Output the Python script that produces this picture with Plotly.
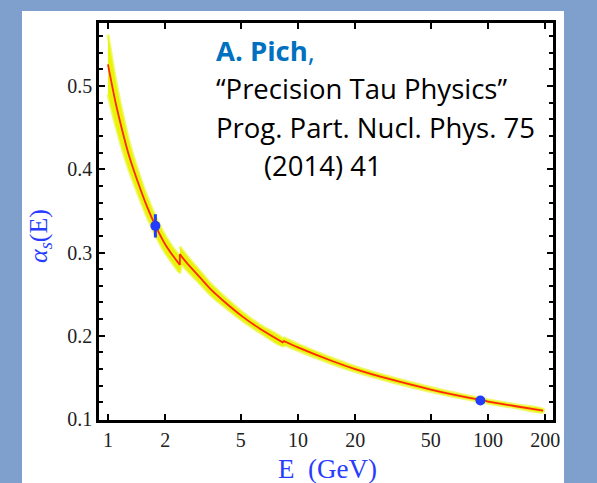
import plotly.graph_objects as go

# ---- data ----
seg1_E = [1.0, 1.1, 1.21, 1.3, 1.42, 1.6, 1.78, 2.0, 2.2, 2.39]
seg1_a = [0.526, 0.479, 0.440, 0.414, 0.388, 0.356, 0.332, 0.310, 0.296, 0.285]
seg1_h = [0.036, 0.027, 0.021, 0.017, 0.014, 0.012, 0.011, 0.010, 0.0095, 0.009]

seg2_E = [2.39, 2.6, 3.05, 3.5, 4.0, 5.13, 6.31, 8.37]
seg2_a = [0.298, 0.2875, 0.270, 0.255, 0.243, 0.2227, 0.2085, 0.1917]
seg2_h = [0.009, 0.0085, 0.0075, 0.0068, 0.006, 0.005, 0.0045, 0.004]

seg3_E = [8.37, 10, 15, 20, 30.5, 50, 63, 91, 100, 140, 195]
seg3_a = [0.194, 0.186, 0.170, 0.160, 0.1478, 0.1354, 0.1302, 0.1229, 0.121, 0.1153, 0.110]
seg3_h = [0.004, 0.0038, 0.0033, 0.003, 0.0027, 0.0024, 0.0022, 0.002, 0.002, 0.0019, 0.0018]

meas_E = [1.777, 91.19]
meas_a = [0.332, 0.1222]
meas_err = [0.014, 0.0]

x_ticks = [1, 2, 5, 10, 20, 50, 100, 200]
y_ticks = [0.1, 0.2, 0.3, 0.4, 0.5]

# ---- layout geometry (pixels) ----
W, H = 597, 483
L, R, T, B = 99, 553, 23, 420
def px(x): return (x - L) / (R - L)
def py(y): return (B - y) / (B - T)

BAND = 'rgb(232,244,10)'
RED = 'rgb(255,40,10)'
BLUE = 'rgb(35,60,255)'

fig = go.Figure()
segs = [(seg1_E, seg1_a, seg1_h), (seg2_E, seg2_a, seg2_h), (seg3_E, seg3_a, seg3_h)]
for E, a, h in segs:
    up = [v + d for v, d in zip(a, h)]
    lo = [v - d for v, d in zip(a, h)]
    fig.add_trace(go.Scatter(x=E + E[::-1], y=up + lo[::-1], fill='toself',
                             fillcolor=BAND, line=dict(color='rgba(232,244,10,0.6)', width=3, shape='spline', smoothing=0.8),
                             mode='lines', hoverinfo='skip', showlegend=False))
# jump connectors band
for (E1, a1, h1), (E2, a2, h2) in [(segs[0], segs[1]), (segs[1], segs[2])]:
    xs = [E1[-1], E2[0]]
    fig.add_trace(go.Scatter(x=xs, y=[a1[-1], a2[0]], mode='lines',
                             line=dict(color=BAND, width=7), hoverinfo='skip', showlegend=False))
# central red curve
for E, a, h in segs:
    fig.add_trace(go.Scatter(x=E, y=a, mode='lines', line=dict(color=RED, width=1.8, shape='spline', smoothing=0.8),
                             hoverinfo='skip', showlegend=False))
for (E1, a1, h1), (E2, a2, h2) in [(segs[0], segs[1]), (segs[1], segs[2])]:
    fig.add_trace(go.Scatter(x=[E1[-1], E2[0]], y=[a1[-1], a2[0]], mode='lines',
                             line=dict(color=RED, width=1.8), hoverinfo='skip', showlegend=False))

fig.add_trace(go.Scatter(x=meas_E, y=meas_a, mode='markers',
                         marker=dict(color=BLUE, size=10),
                         error_y=dict(type='data', array=meas_err, color=BLUE, thickness=3, width=0),
                         showlegend=False))

fig.update_xaxes(type='log', range=[-0.047, 2.342], tickvals=x_ticks, ticktext=[str(v) for v in x_ticks],
                 ticks='inside', ticklen=6, tickwidth=2, tickcolor='black',
                 showline=True, linecolor='black', linewidth=2.5, mirror='allticks',
                 showgrid=False, zeroline=False,
                 tickfont=dict(family='Liberation Serif', size=20, color='#222'))
fig.update_yaxes(range=[0.0988, 0.5757], tickvals=y_ticks, ticktext=['0.1', '0.2', '0.3', '0.4', '0.5'],
                 ticks='inside', ticklen=6, tickwidth=2, tickcolor='black',
                 minor=dict(dtick=0.02, tick0=0.1, ticks='inside', ticklen=4, tickwidth=1.5, tickcolor='black'),
                 showline=True, linecolor='black', linewidth=2.5, mirror='allticks',
                 showgrid=False, zeroline=False,
                 tickfont=dict(family='Liberation Serif', size=20, color='#222'))

shapes = [dict(type='rect', xref='paper', yref='paper', x0=px(22), x1=px(564), y0=py(483), y1=py(11),
               fillcolor='white', line=dict(width=0), layer='below')]

ann = []
SANS = 'Open Sans'
FS = 27.5
ann.append(dict(x=px(214), y=py(50), xref='paper', yref='paper', xanchor='left', yanchor='middle',
                text='<b>A. Pich</b>,', showarrow=False, font=dict(family=SANS, size=FS, color='rgb(0,112,192)')))
ann.append(dict(x=px(214), y=py(88), xref='paper', yref='paper', xanchor='left', yanchor='middle',
                text='“Precision Tau Physics”', showarrow=False, font=dict(family=SANS, size=FS, color='black')))
ann.append(dict(x=px(214), y=py(127), xref='paper', yref='paper', xanchor='left', yanchor='middle',
                text='Prog. Part. Nucl. Phys. 75', showarrow=False, font=dict(family=SANS, size=FS, color='black')))
ann.append(dict(x=px(262), y=py(166), xref='paper', yref='paper', xanchor='left', yanchor='middle',
                text='(2014) 41', showarrow=False, font=dict(family=SANS, size=FS, color='black')))
# axis titles
ann.append(dict(x=px(327), y=py(469), xref='paper', yref='paper', xanchor='center', yanchor='middle',
                text='E  (GeV)', showarrow=False, font=dict(family='Liberation Serif', size=27, color='rgb(40,60,255)')))
ann.append(dict(x=px(40), y=py(236), xref='paper', yref='paper', xanchor='center', yanchor='middle',
                text='<i>α<sub>s</sub></i>(E)', textangle=-90, showarrow=False,
                font=dict(family='Liberation Serif', size=26, color='rgb(40,60,255)')))

fig.update_layout(width=W, height=H, margin=dict(l=L, r=W - R, t=T, b=H - B),
                  paper_bgcolor='rgb(127,159,204)', plot_bgcolor='white',
                  shapes=shapes, annotations=ann, showlegend=False)

fig.write_html('out.html')
